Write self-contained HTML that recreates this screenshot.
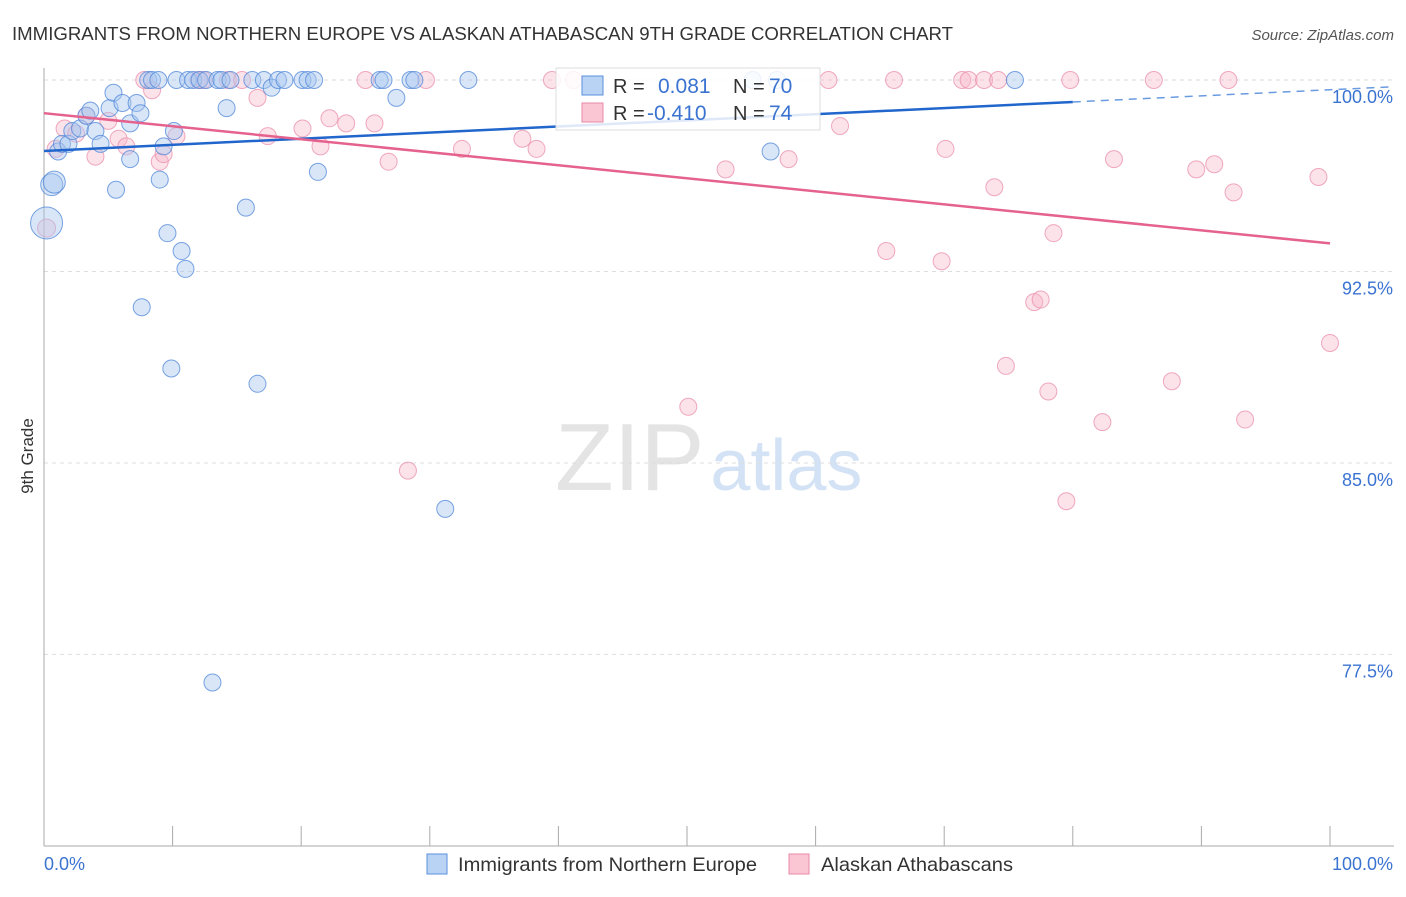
<!DOCTYPE html>
<html><head><meta charset="utf-8">
<style>
body{margin:0;background:#fff;font-family:"Liberation Sans",sans-serif;}
svg text{font-family:"Liberation Sans",sans-serif;}
</style></head>
<body>
<svg id="chart" width="1406" height="892" xmlns="http://www.w3.org/2000/svg">
<text x="12" y="40" font-size="18.5" fill="#333" textLength="941" lengthAdjust="spacingAndGlyphs">IMMIGRANTS FROM NORTHERN EUROPE VS ALASKAN ATHABASCAN 9TH GRADE CORRELATION CHART</text>
<text x="1394" y="40" font-size="15" fill="#555" font-style="italic" text-anchor="end">Source: ZipAtlas.com</text>
<text x="555" y="490" font-size="96" fill="#e4e4e4" font-family="Liberation Serif">ZIP<tspan fill="#d3e2f5" font-family="Liberation Sans" font-size="72" dx="6">atlas</tspan></text>
<text transform="translate(33,456) rotate(-90)" font-size="17" fill="#333" text-anchor="middle">9th Grade</text>
<g id="grid"></g><g id="axes"></g><g id="pts"></g><g id="trend"></g>
<g>
<rect x="556" y="68" width="264" height="62" fill="#fff" fill-opacity="0.85" stroke="#ddd"/>
<rect x="582" y="76" width="21" height="19" fill="#b9d3f5" stroke="#5a8fdc"/>
<text x="613" y="93" font-size="20" fill="#333">R = </text><text x="658" y="93" font-size="21" fill="#3b73d1">0.081</text>
<text x="733" y="93" font-size="20" fill="#333">N = </text><text x="769" y="93" font-size="21" fill="#3b73d1">70</text>
<rect x="582" y="103" width="21" height="19" fill="#fac6d4" stroke="#e88aa4"/>
<text x="613" y="120" font-size="20" fill="#333">R = </text><text x="647" y="120" font-size="21" fill="#3b73d1">-0.410</text>
<text x="733" y="120" font-size="20" fill="#333">N = </text><text x="769" y="120" font-size="21" fill="#3b73d1">74</text>
</g>
<g>
<rect x="427" y="854" width="20" height="20" fill="#b9d3f5" stroke="#5a8fdc"/>
<text x="458" y="871" font-size="19.5" fill="#333" textLength="299" lengthAdjust="spacingAndGlyphs">Immigrants from Northern Europe</text>
<rect x="789" y="854" width="20" height="20" fill="#fac6d4" stroke="#e88aa4"/>
<text x="821" y="871" font-size="19.5" fill="#333" textLength="192" lengthAdjust="spacingAndGlyphs">Alaskan Athabascans</text>
</g>
</svg>
<script>
const yTicks=[100,92.5,85,77.5];
const yTickLabels=["100.0%","92.5%","85.0%","77.5%"];
const xTickVals=[0,10,20,30,40,50,60,70,80,90,100];
const blueX=[0.2,0.6,0.8,1.1,1.4,1.9,2.2,2.8,3.3,3.6,4.0,4.4,5.1,5.4,5.6,6.1,6.7,6.7,7.2,7.5,7.6,8.1,8.4,8.9,9.0,9.3,9.6,9.9,10.1,10.3,10.7,11.0,11.2,11.6,12.1,12.6,13.1,13.5,13.8,14.2,14.5,15.7,16.2,16.6,17.1,17.7,18.2,18.7,20.1,20.5,21.0,21.3,26.1,26.4,27.4,28.5,28.8,31.2,33.0,55.1,56.5,57.0,75.5];
const blueY=[94.4,95.9,96.0,97.2,97.5,97.5,98.0,98.1,98.6,98.8,98.0,97.5,98.9,99.5,95.7,99.1,96.9,98.3,99.1,98.7,91.1,100,100,100,96.1,97.4,94.0,88.7,98.0,100,93.3,92.6,100,100,100,100,76.4,100,100,98.9,100,95.0,100,88.1,100,99.7,100,100,100,100,100,96.4,100,100,99.3,100,100,83.2,100,100,97.2,100,100];
const pinkX=[0.2,0.9,1.6,2.5,3.3,4.0,5.0,5.8,6.4,7.8,8.4,9.0,9.3,10.3,12.0,12.4,14.3,15.4,16.6,17.4,20.1,21.5,22.2,23.5,25.0,25.7,26.8,28.3,29.7,32.5,37.2,38.3,39.5,41.2,50.1,53.0,57.9,61.0,61.9,65.5,66.1,69.8,70.1,71.4,71.9,73.1,73.9,74.2,74.8,77.0,77.5,78.1,78.5,79.5,79.8,82.3,83.2,86.3,87.7,89.6,91.0,92.1,92.5,93.4,99.1,100];
const pinkY=[94.2,97.3,98.1,97.9,98.6,97.0,98.4,97.7,97.4,100,99.6,96.8,97.1,97.8,100,100,100,100,99.3,97.8,98.1,97.4,98.5,98.3,100,98.3,96.8,84.7,100,97.3,97.7,97.3,100,100,87.2,96.5,96.9,100,98.2,93.3,100,92.9,97.3,100,100,100,95.8,100,88.8,91.3,91.4,87.8,94.0,83.5,100,86.6,96.9,100,88.2,96.5,96.7,100,95.6,86.7,96.2,89.7];
const blueTrendX=[0,80,104.7];
const blueTrendY=[97.22,99.14,99.73];
const pinkTrendX=[0,100];
const pinkTrendY=[98.7,93.6];
const NS="http://www.w3.org/2000/svg";
const sx=v=>44+v*12.86, sy=v=>80+(100-v)*25.53;
function mk(t,a,p){const e=document.createElementNS(NS,t);for(const k in a)e.setAttribute(k,a[k]);p.appendChild(e);return e;}
const grid=document.getElementById('grid'),axes=document.getElementById('axes'),pts=document.getElementById('pts'),tr=document.getElementById('trend');
yTicks.forEach((v,i)=>{
 const l=mk('line',{x1:44,x2:1394,y1:sy(v),y2:sy(v),stroke:'#ddd','stroke-dasharray':'4,4'},grid);
 
 
 const t=mk('text',{x:1393,y:sy(v)+23,'font-size':18,fill:'#3b73d1','text-anchor':'end'},grid);
 t.textContent=yTickLabels[i];
 
 
});
const ya=mk('line',{x1:44,x2:44,y1:68,y2:846,stroke:'#aaa'},axes);


const xa=mk('line',{x1:44,x2:1394,y1:846,y2:846,stroke:'#aaa'},axes);


xTickVals.forEach(v=>{const t=mk('line',{x1:sx(v),x2:sx(v),y1:826,y2:846,stroke:'#aaa'},axes);
 
 });
const x0=mk('text',{x:44,y:870,'font-size':18,fill:'#3b73d1'},axes);x0.textContent='0.0%';


const x1=mk('text',{x:1393,y:870,'font-size':18,fill:'#3b73d1','text-anchor':'end'},axes);x1.textContent='100.0%';


pinkX.forEach((x,i)=>{const c=mk('circle',{cx:sx(x),cy:sy(pinkY[i]),r:i==0?9:8.5,fill:'#f8b7c9','fill-opacity':0.4,stroke:'#e888a6','stroke-opacity':0.7},pts);
 
 });
blueX.forEach((x,i)=>{const r=i==0?16:(i<3?11:8.5);const c=mk('circle',{cx:sx(x),cy:sy(blueY[i]),r:r,fill:'#a8c8f0','fill-opacity':0.45,stroke:'#4f86d8','stroke-opacity':0.75},pts);
 
 });
const bl=mk('line',{x1:sx(blueTrendX[0]),y1:sy(blueTrendY[0]),x2:sx(blueTrendX[1]),y2:sy(blueTrendY[1]),stroke:'#2166cc','stroke-width':2.5},tr);


const bd=mk('line',{x1:sx(blueTrendX[1]),y1:sy(blueTrendY[1]),x2:sx(blueTrendX[2]),y2:sy(blueTrendY[2]),stroke:'#6a9be0','stroke-width':1.5,'stroke-dasharray':'8,6'},tr);


const pl=mk('line',{x1:sx(pinkTrendX[0]),y1:sy(pinkTrendY[0]),x2:sx(pinkTrendX[1]),y2:sy(pinkTrendY[1]),stroke:'#e5628e','stroke-width':2.5},tr);


</script>
</body></html>
